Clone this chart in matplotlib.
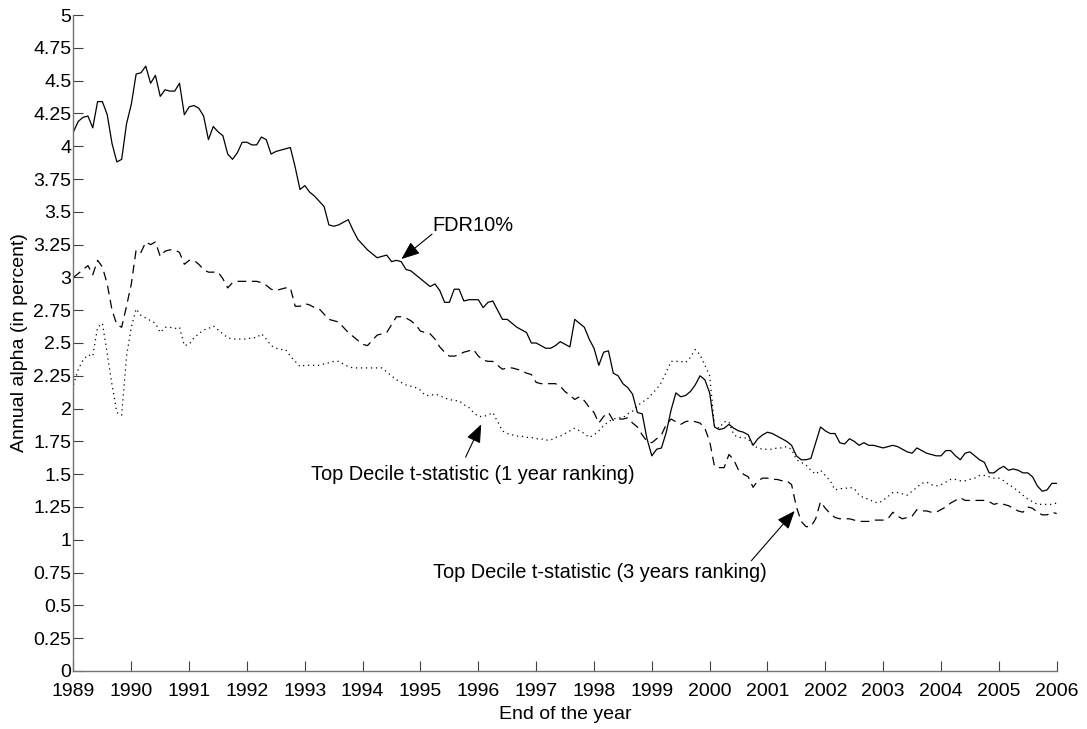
import numpy as np
import matplotlib
matplotlib.use("Agg")
from matplotlib import pyplot as plt
from matplotlib.ticker import FuncFormatter

plt.rcParams["font.family"] = ["Liberation Sans", "DejaVu Sans"]

# monthly observations, end of 1988 .. end of 2005 (x axis 1989..2006)
fdr10 = [
    4.11, 4.19, 4.22, 4.23, 4.14, 4.34, 4.34, 4.24, 4.02, 3.88, 3.90, 4.17,
    4.32, 4.55, 4.56, 4.61, 4.48, 4.54, 4.38, 4.43, 4.42, 4.42, 4.48, 4.24,
    4.30, 4.31, 4.29, 4.23, 4.05, 4.15, 4.11, 4.08, 3.94, 3.90, 3.95, 4.03,
    4.03, 4.01, 4.01, 4.07, 4.05, 3.94, 3.96, 3.97, 3.98, 3.99, 3.84, 3.67,
    3.70, 3.65, 3.62, 3.58, 3.54, 3.40, 3.39, 3.40, 3.42, 3.44, 3.36, 3.29,
    3.25, 3.21, 3.18, 3.15, 3.16, 3.17, 3.12, 3.13, 3.12, 3.06, 3.05, 3.02,
    2.99, 2.96, 2.93, 2.95, 2.90, 2.81, 2.81, 2.91, 2.91, 2.82, 2.83, 2.83,
    2.83, 2.77, 2.81, 2.82, 2.75, 2.68, 2.68, 2.65, 2.62, 2.60, 2.58, 2.50,
    2.50, 2.48, 2.46, 2.46, 2.48, 2.51, 2.49, 2.47, 2.68, 2.65, 2.62, 2.53,
    2.46, 2.33, 2.43, 2.44, 2.27, 2.25, 2.19, 2.16, 2.11, 1.97, 1.96, 1.77,
    1.64, 1.69, 1.70, 1.82, 1.99, 2.12, 2.09, 2.10, 2.13, 2.18, 2.25, 2.22,
    2.12, 1.86, 1.84, 1.85, 1.88, 1.85, 1.83, 1.82, 1.80, 1.72, 1.77, 1.80,
    1.82, 1.81, 1.79, 1.77, 1.75, 1.72, 1.64, 1.61, 1.61, 1.62, 1.74, 1.86,
    1.83, 1.81, 1.81, 1.74, 1.73, 1.77, 1.75, 1.72, 1.74, 1.72, 1.72, 1.71,
    1.70, 1.71, 1.72, 1.71, 1.69, 1.67, 1.66, 1.70, 1.68, 1.66, 1.65, 1.64,
    1.64, 1.68, 1.68, 1.64, 1.61, 1.66, 1.67, 1.64, 1.61, 1.59, 1.51, 1.51,
    1.54, 1.56, 1.53, 1.54, 1.53, 1.51, 1.51, 1.48, 1.41, 1.37, 1.38, 1.43,
    1.43,
]

top_decile_3y = [
    3.00, 3.03, 3.06, 3.09, 3.02, 3.13, 3.08, 2.95, 2.75, 2.64, 2.62, 2.78,
    2.95, 3.21, 3.19, 3.27, 3.25, 3.27, 3.16, 3.20, 3.21, 3.21, 3.19, 3.10,
    3.13, 3.13, 3.10, 3.06, 3.04, 3.04, 3.04, 2.99, 2.92, 2.96, 2.97, 2.97,
    2.97, 2.97, 2.97, 2.96, 2.94, 2.91, 2.90, 2.91, 2.92, 2.92, 2.78, 2.78,
    2.80, 2.79, 2.77, 2.76, 2.72, 2.68, 2.67, 2.66, 2.62, 2.58, 2.55, 2.52,
    2.49, 2.48, 2.52, 2.56, 2.57, 2.58, 2.64, 2.70, 2.70, 2.69, 2.67, 2.64,
    2.59, 2.58, 2.57, 2.53, 2.47, 2.43, 2.40, 2.40, 2.41, 2.43, 2.44, 2.45,
    2.40, 2.37, 2.36, 2.36, 2.33, 2.30, 2.31, 2.31, 2.30, 2.29, 2.27, 2.26,
    2.20, 2.19, 2.19, 2.19, 2.19, 2.17, 2.13, 2.10, 2.07, 2.09, 2.06, 2.01,
    1.97, 1.89, 1.94, 1.97, 1.91, 1.92, 1.92, 1.93, 1.89, 1.86, 1.80, 1.75,
    1.74, 1.77, 1.80, 1.88, 1.92, 1.90, 1.88, 1.90, 1.91, 1.90, 1.89, 1.85,
    1.75, 1.56, 1.55, 1.55, 1.65, 1.61, 1.53, 1.50, 1.48, 1.40, 1.45, 1.47,
    1.47, 1.46, 1.46, 1.45, 1.45, 1.42, 1.25, 1.14, 1.10, 1.10, 1.16, 1.29,
    1.24, 1.20, 1.17, 1.16, 1.16, 1.16, 1.15, 1.14, 1.14, 1.14, 1.15, 1.15,
    1.15, 1.16, 1.21, 1.18, 1.16, 1.17, 1.18, 1.23, 1.22, 1.22, 1.21, 1.21,
    1.23, 1.25, 1.28, 1.30, 1.32, 1.30, 1.30, 1.30, 1.30, 1.30, 1.29, 1.27,
    1.28, 1.27, 1.26, 1.24, 1.22, 1.21, 1.25, 1.24, 1.21, 1.19, 1.19, 1.21,
    1.20,
]

top_decile_1y = [
    2.18, 2.30, 2.37, 2.41, 2.40, 2.62, 2.65, 2.42, 2.18, 1.97, 1.95, 2.40,
    2.62, 2.76, 2.71, 2.69, 2.67, 2.65, 2.58, 2.62, 2.62, 2.61, 2.62, 2.48,
    2.49, 2.54, 2.57, 2.60, 2.61, 2.63, 2.60, 2.57, 2.54, 2.53, 2.53, 2.53,
    2.53, 2.54, 2.54, 2.57, 2.53, 2.48, 2.46, 2.45, 2.45, 2.40, 2.36, 2.32,
    2.33, 2.33, 2.33, 2.33, 2.34, 2.35, 2.36, 2.36, 2.34, 2.32, 2.31, 2.31,
    2.31, 2.31, 2.31, 2.31, 2.31, 2.28, 2.25, 2.22, 2.20, 2.18, 2.17, 2.16,
    2.14, 2.10, 2.10, 2.11, 2.10, 2.08, 2.07, 2.06, 2.06, 2.03, 2.01, 1.97,
    1.94, 1.94, 1.95, 1.97, 1.90, 1.83, 1.81, 1.80, 1.79, 1.79, 1.78, 1.78,
    1.77, 1.77, 1.76, 1.76, 1.78, 1.79, 1.81, 1.83, 1.85, 1.83, 1.81, 1.78,
    1.80, 1.83, 1.87, 1.90, 1.92, 1.93, 1.93, 1.96, 1.98, 2.02, 2.05, 2.07,
    2.11, 2.15, 2.20, 2.28, 2.36, 2.36, 2.36, 2.35, 2.39, 2.45, 2.41, 2.33,
    2.25, 1.87, 1.85, 1.90, 1.90, 1.80, 1.78, 1.78, 1.77, 1.72, 1.70, 1.69,
    1.69, 1.69, 1.70, 1.70, 1.71, 1.69, 1.61, 1.59, 1.57, 1.53, 1.50, 1.53,
    1.49, 1.45, 1.38, 1.39, 1.39, 1.40, 1.39, 1.34, 1.32, 1.31, 1.29, 1.28,
    1.30, 1.33, 1.36, 1.36, 1.35, 1.34, 1.37, 1.40, 1.43, 1.44, 1.42, 1.41,
    1.42, 1.44, 1.46, 1.46, 1.45, 1.45, 1.46, 1.47, 1.49, 1.49, 1.48, 1.47,
    1.47, 1.45, 1.42, 1.40, 1.37, 1.34, 1.31, 1.29, 1.27, 1.27, 1.27, 1.27,
    1.28,
]

year_ticks = list(range(1989, 2007))
alpha_ticks = np.arange(0, 5.01, 0.25)


def main():
    t = 1989 + np.arange(len(fdr10)) / 12.0

    fig = plt.figure(figsize=(10.87, 7.29), dpi=100)
    ax = fig.add_axes([0.0676, 0.0796, 0.9045, 0.8998])

    ax.plot(t, fdr10, color="k", lw=0.9, ls="-")
    ax.plot(t, top_decile_3y, color="k", lw=0.9, ls=(0, (7, 4.5)))
    ax.plot(t, top_decile_1y, color="k", lw=0.9, ls=(0, (1, 3)))

    ax.set_xlim(1989, 2006)
    ax.set_ylim(0, 5)
    ax.set_xticks(year_ticks)
    ax.set_yticks(alpha_ticks)
    ax.yaxis.set_major_formatter(FuncFormatter(lambda v, p: "%g" % v))

    for side in ["top", "right"]:
        ax.spines[side].set_visible(False)
    for side in ["left", "bottom"]:
        ax.spines[side].set_color("0.45")
        ax.spines[side].set_linewidth(1.0)

    ax.tick_params(direction="in", length=7, width=0.8, color="0.25",
                   labelsize=14)
    ax.tick_params(axis="y", pad=1.5)
    ax.tick_params(axis="x", pad=9)

    ax.set_xlabel("End of the year", fontsize=14, labelpad=4)
    ax.set_ylabel("Annual alpha (in percent)", fontsize=14, labelpad=4)

    arrow = dict(arrowstyle="-|>,head_length=0.7,head_width=0.28",
                 color="k", lw=0.8, mutation_scale=16,
                 shrinkA=0, shrinkB=0)

    ax.text(1995.21, 3.353, "FDR10%", fontsize=14.4, va="baseline")
    ax.annotate("", xy=(1994.67, 3.14), xytext=(1995.20, 3.33),
                arrowprops=arrow)

    ax.text(1993.11, 1.457, "Top Decile t-statistic (1 year ranking)",
            fontsize=14.4, va="baseline")
    ax.annotate("", xy=(1996.05, 1.88), xytext=(1995.78, 1.63),
                arrowprops=arrow)

    ax.text(1995.22, 0.706, "Top Decile t-statistic (3 years ranking)",
            fontsize=14.4, va="baseline")
    ax.annotate("", xy=(2001.47, 1.22), xytext=(2000.72, 0.84),
                arrowprops=arrow)

    fig.savefig("out.png", dpi=100)
    plt.close(fig)


if __name__ == "__main__":
    main()
